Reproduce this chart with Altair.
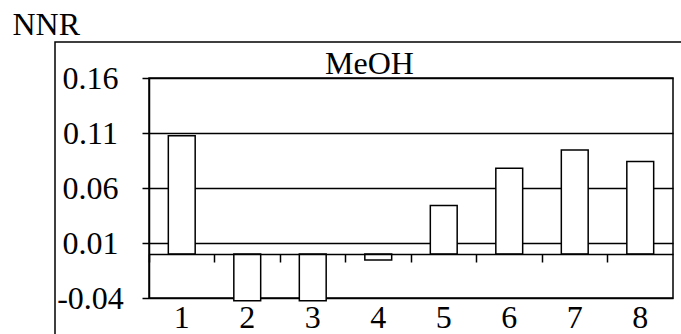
import altair as alt
import pandas as pd

categories = ["1", "2", "3", "4", "5", "6", "7", "8"]
nnr_values = [0.1075, -0.0425, -0.0425, -0.0055, 0.044, 0.078, 0.0945, 0.084]
y_tick_values = [-0.04, 0.01, 0.06, 0.11, 0.16]
panel_title = "MeOH"
y_title = "NNR"

df = pd.DataFrame({"cat": categories, "nnr": nnr_values})

W, H = 524, 220
FONT = "Liberation Serif"
FS = 32
LW = 1.5

x_scale = alt.Scale(paddingInner=0, paddingOuter=0)
y_scale = alt.Scale(domain=[-0.04, 0.16], nice=False, zero=False)

label_expr = "datum.value < 0 ? '-' + format(-datum.value, '.2f') : format(datum.value, '.2f')"

y_axis = alt.Axis(
    values=y_tick_values, labelExpr=label_expr,
    grid=True, gridColor="black", gridWidth=LW,
    domain=True, domainColor="black", domainWidth=LW,
    ticks=True, tickColor="black", tickWidth=LW, tickSize=7,
    labelAlign="center", labelPadding=52, labelFont=FONT, labelFontSize=FS,
    labelColor="black",
    title=y_title, titleAngle=0, titleAlign="left", titleBaseline="alphabetic",
    titleX=-137, titleY=-44, titleFont=FONT, titleFontSize=FS,
    titleFontWeight="normal", titleColor="black",
)

x_axis_labels = alt.Axis(
    orient="bottom", labelAngle=0, domain=False, ticks=False, tickSize=0,
    grid=False, labelFont=FONT, labelFontSize=FS, labelColor="black",
    labelBaseline="alphabetic", labelPadding=29,
    title=panel_title, titleAngle=0, titleAlign="center", titleBaseline="alphabetic",
    titleX=220, titleY=-225, titleFont=FONT, titleFontSize=FS,
    titleFontWeight="normal", titleColor="black",
)

x_axis_zero = alt.Axis(
    orient="bottom", offset=-44, labels=False, domain=True, domainColor="black",
    domainWidth=LW, ticks=True, tickColor="black", tickWidth=LW, tickSize=8,
    bandPosition=0, grid=False, title=None, zindex=1,
)

frame = alt.Chart(pd.DataFrame({"f": [0]})).mark_rect(
    fillOpacity=0, stroke="black", strokeWidth=LW
).encode(
    x=alt.value(-94), x2=alt.value(W + 80),
    y=alt.value(-36), y2=alt.value(H + 80),
)

bars = alt.Chart(df).mark_bar(
    fill="white", stroke="black", strokeWidth=LW, width=alt.RelativeBandSize(0.41)
).encode(
    x=alt.X("cat:O", sort=categories, scale=x_scale, axis=x_axis_labels),
    y=alt.Y("nnr:Q", scale=y_scale, axis=y_axis),
)

zero_axis = alt.Chart(df).mark_point(opacity=0).encode(
    x=alt.X("cat:O", sort=categories, scale=x_scale, axis=x_axis_zero),
)

chart = alt.layer(frame, bars, zero_axis).resolve_axis(x="independent").properties(
    width=W, height=H,
    autosize=alt.AutoSizeParams(type="none"),
    padding={"left": 149, "top": 78, "right": 8, "bottom": 36},
    background="white",
).configure_view(stroke="black", strokeWidth=LW)

chart.save("out.html", embed_options={"renderer": "svg", "actions": False})
